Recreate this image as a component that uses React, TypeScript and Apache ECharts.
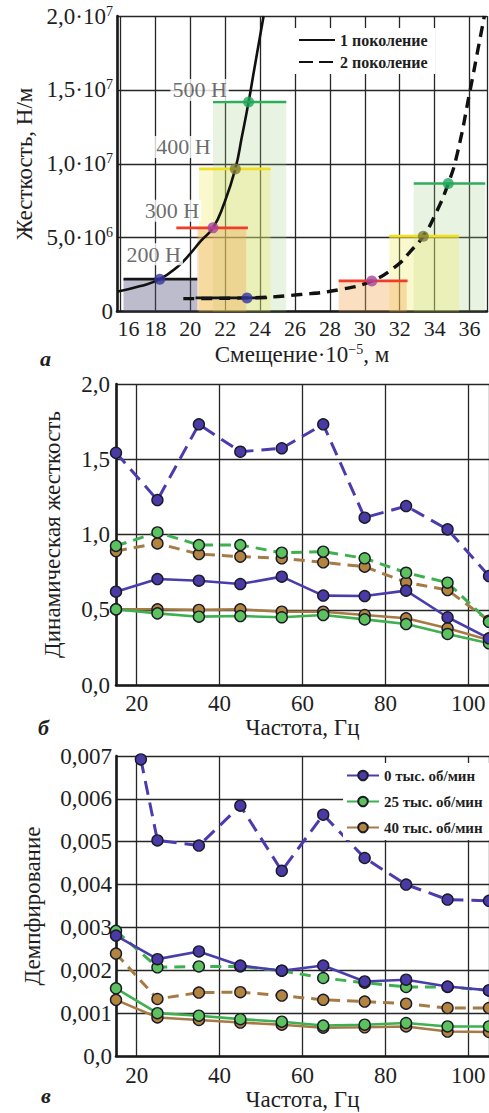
import React, { useEffect, useRef } from 'react';
import * as echarts from 'echarts';

const FONT = '"Liberation Serif", "DejaVu Serif", serif';
const INK = '#1e1e1e';

// ---------- а: stiffness vs displacement ----------
const forceLabels = ['200 Н', '300 Н', '400 Н', '500 Н'];

// curve of the 1st generation: [displacement·1e-5 m, stiffness N/m]
const gen1Curve = [
  [15.85, 1.35e6], [17.14, 1.72e6], [18.25, 2.19e6], [19.24, 3.0e6], [20.0, 3.92e6],
  [20.58, 4.74e6], [21.3, 5.66e6], [21.91, 7.22e6], [22.58, 9.65e6], [22.96, 11.86e6],
  [23.34, 14.18e6], [23.63, 16.16e6], [23.91, 18.06e6], [24.2, 20.0e6],
];
// curve of the 2nd generation
const gen2Curve = [
  [19.6, 0.87e6], [23.25, 0.92e6], [26.3, 1.15e6], [28.59, 1.49e6], [30.4, 2.07e6],
  [31.83, 3.11e6], [32.59, 4.04e6], [33.35, 5.1e6], [34.02, 6.53e6], [34.78, 8.66e6],
  [35.3, 10.7e6], [36.02, 14.9e6], [36.5, 17.85e6], [36.85, 20.0e6],
];

// measured points for 200/300/400/500 N
const gen1Disp = [18.25, 21.3, 22.58, 23.34];
const gen1Stiff = [2.19e6, 5.66e6, 9.65e6, 14.18e6];
const gen1Low = [16.17, 19.2, 20.5, 21.3];
const gen1High = [20.4, 23.3, 24.6, 25.5];
const gen1ShadeLow = [16.17, 20.4, 20.5, 21.3];
const gen1ShadeHigh = [20.4, 23.2, 24.6, 25.5];

const gen2Disp = [23.25, 30.4, 33.35, 34.78];
const gen2Stiff = [0.92e6, 2.07e6, 5.1e6, 8.66e6];
const gen2Low = [20.3, 28.5, 31.4, 32.8];
const gen2High = [24.4, 32.45, 35.4, 36.9];
const gen2ShadeLow = [null, 28.5, 31.4, 32.8];
const gen2ShadeHigh = [null, 32.4, 35.4, 36.9];

const barColors = ['#151515', '#f03c28', '#f0e020', '#2fae5a'];
const dotColors = ['#3535a0', '#a8449c', '#7d7a35', '#1fa65a'];
const shadeColors = [
  'rgba(80,80,120,0.38)',
  'rgba(242,165,80,0.36)',
  'rgba(238,232,100,0.32)',
  'rgba(160,210,130,0.24)',
];
// offsets of the force captions from their points (px)
const captionOffsets = [[-6, -25], [-41, -17], [-52, -22], [-49, -12]];

// ---------- б, в: frequency sweeps ----------
const freq = [15, 25, 35, 45, 55, 65, 75, 85, 95, 105];
const speedNames = ['0 тыс. об/мин', '25 тыс. об/мин', '40 тыс. об/мин'];

// dynamic stiffness
const stiffBlueDashed = [1.543, 1.229, 1.732, 1.55, 1.573, 1.732, 1.112, 1.189, 1.034, 0.724];
const stiffGreenDashed = [0.924, 1.014, 0.93, 0.93, 0.879, 0.886, 0.842, 0.746, 0.68, 0.42];
const stiffBrownDashed = [0.89, 0.941, 0.87, 0.853, 0.842, 0.815, 0.786, 0.682, 0.631, 0.427];
const stiffBlueSolid = [0.62, 0.704, 0.693, 0.671, 0.72, 0.594, 0.591, 0.627, 0.45, 0.31];
const stiffBrownSolid = [0.503, 0.503, 0.499, 0.503, 0.487, 0.487, 0.465, 0.443, 0.377, 0.299];
const stiffGreenSolid = [0.503, 0.476, 0.454, 0.458, 0.45, 0.465, 0.436, 0.405, 0.339, 0.277];

// damping
const dampBlueDashedFreq = [21, 25, 35, 45, 55, 65, 75, 85, 95, 105];
const dampBlueDashed = [0.00692, 0.00503, 0.00491, 0.00584, 0.00432, 0.00563, 0.00462, 0.004, 0.00365, 0.00362];
const dampBlueSolid = [0.00281, 0.00226, 0.00244, 0.00211, 0.00199, 0.00211, 0.00174, 0.00178, 0.00162, 0.00153];
const dampGreenDashed = [0.00292, 0.00207, 0.00209, 0.00209, 0.00199, 0.00182, 0.00171, 0.00161, 0.00161, 0.00153];
const dampGreenSolid = [0.00158, 0.001, 0.00094, 0.00086, 0.0008, 0.00071, 0.00073, 0.00077, 0.00069, 0.00069];
const dampBrownDashed = [0.00239, 0.00133, 0.00148, 0.00149, 0.00141, 0.00131, 0.00127, 0.00122, 0.00112, 0.00112];
const dampBrownSolid = [0.00131, 0.0009, 0.00084, 0.00078, 0.00073, 0.00066, 0.00067, 0.00069, 0.00057, 0.00056];

const BLUE = { line: '#4b3cae', dot: '#4a3aa6' };
const GREEN = { line: '#3fb050', dot: '#5cc25e' };
const BROWN = { line: '#a67a44', dot: '#b3843f' };

const pairs = (xs: number[], ys: number[]) => xs.map((x, i) => [x, ys[i]]);

const axisLine = { show: true, onZero: false, lineStyle: { color: '#1a1a1a', width: 2.6 } };
const split = { show: true, lineStyle: { color: '#262626', width: 1.3 } };
const tickLabel = { fontFamily: FONT, fontSize: 23, color: INK };
const nameStyle = { fontFamily: FONT, fontSize: 23, color: INK };

function sweep(name: string, data: number[][], idx: number, c: { line: string; dot: string }, dash: number[] | null, z: number) {
  return {
    type: 'line',
    name,
    xAxisIndex: idx,
    yAxisIndex: idx,
    data,
    z,
    symbol: 'circle',
    symbolSize: 11,
    lineStyle: { color: c.line, width: dash ? 3 : 2.6, type: dash || 'solid' },
    itemStyle: { color: c.dot, borderColor: '#1a1a28', borderWidth: 1.4 },
    emphasis: { disabled: true },
  };
}

function buildOption() {
  const shadeData: number[][] = [];
  for (let k = 3; k >= 0; k--) {
    shadeData.push([gen1ShadeLow[k], gen1ShadeHigh[k], gen1Stiff[k], k]);
    if (gen2ShadeLow[k] != null) shadeData.push([gen2ShadeLow[k] as number, gen2ShadeHigh[k] as number, gen2Stiff[k], k]);
  }
  const barData: number[][] = [];
  for (let k = 0; k < 4; k++) {
    barData.push([gen1Low[k], gen1High[k], gen1Stiff[k], k]);
    barData.push([gen2Low[k], gen2High[k], gen2Stiff[k], k]);
  }

  const supRich = {
    n: { fontFamily: FONT, fontSize: 23, color: INK },
    s: { fontFamily: FONT, fontSize: 14, color: INK, padding: [0, 0, 10, 0] },
  };

  return {
    animation: false,
    backgroundColor: '#ffffff',
    grid: [
      { left: 117, top: 16, width: 370, height: 295.5 },
      { left: 116, top: 384, width: 373, height: 301 },
      { left: 116, top: 756, width: 373, height: 300 },
    ],
    xAxis: [
      {
        gridIndex: 0, type: 'value', min: 15.8, max: 37, splitNumber: 10,
        axisLine, axisTick: { show: false }, splitLine: split,
        axisLabel: {
          ...tickLabel, fontSize: 22, margin: 6, showMinLabel: false, showMaxLabel: false,
          formatter: (v: number) => (v === 16 ? '{p|16}' : String(v)),
          rich: { p: { fontFamily: FONT, fontSize: 22, color: INK, padding: [0, 0, 0, 16] } },
        },
        name: '{n|Смещение·10}{s|−5}{n|, м}', nameLocation: 'middle', nameGap: 31,
        nameTextStyle: { ...nameStyle, rich: supRich },
      },
      {
        gridIndex: 1, type: 'value', min: 15, max: 105,
        axisLine, axisTick: { show: false }, splitLine: split,
        axisLabel: { ...tickLabel, margin: 7, showMinLabel: false, showMaxLabel: false },
        name: 'Частота, Гц', nameLocation: 'middle', nameGap: 27, nameTextStyle: nameStyle,
      },
      {
        gridIndex: 2, type: 'value', min: 15, max: 105,
        axisLine, axisTick: { show: false }, splitLine: split,
        axisLabel: { ...tickLabel, margin: 8, showMinLabel: false, showMaxLabel: false },
        name: 'Частота, Гц', nameLocation: 'middle', nameGap: 30, nameTextStyle: nameStyle,
      },
    ],
    yAxis: [
      {
        gridIndex: 0, type: 'value', min: 0, max: 2e7, interval: 5e6,
        axisLine, axisTick: { show: false }, splitLine: split,
        axisLabel: {
          margin: 4,
          formatter: (v: number) => {
            if (v === 0) return '{n|0}';
            const e = v >= 1e7 ? 7 : 6;
            const m = (v / Math.pow(10, e)).toFixed(1).replace('.', ',');
            return `{n|${m}·10}{s|${e}}`;
          },
          rich: supRich,
        },
        name: 'Жесткость, Н/м', nameLocation: 'middle', nameGap: 80, nameTextStyle: nameStyle,
      },
      {
        gridIndex: 1, type: 'value', min: 0, max: 2, interval: 0.5,
        axisLine, axisTick: { show: false }, splitLine: split,
        axisLabel: { ...tickLabel, margin: 6, formatter: (v: number) => v.toFixed(1).replace('.', ',') },
        name: 'Динамическая жесткость', nameLocation: 'middle', nameGap: 52, nameTextStyle: nameStyle,
      },
      {
        gridIndex: 2, type: 'value', min: 0, max: 0.007, interval: 0.001,
        axisLine, axisTick: { show: false }, splitLine: split,
        axisLabel: {
          ...tickLabel, margin: 4,
          formatter: (v: number) => (v === 0 ? '0,0' : v.toFixed(3).replace('.', ',')),
        },
        name: 'Демпфирование', nameLocation: 'middle', nameGap: 72, nameTextStyle: nameStyle,
      },
    ],
    legend: [
      {
        data: [
          { name: '1 поколение' },
          { name: '2 поколение', lineStyle: { type: [14, 6] } },
        ],
        left: 292, top: 28, orient: 'vertical',
        itemWidth: 36, itemHeight: 10, itemGap: 6,
        padding: [4, 8, 4, 6], backgroundColor: '#ffffff',
        selectedMode: false,
        itemStyle: { opacity: 0 },
        textStyle: { fontFamily: FONT, fontSize: 16, fontWeight: 'bold', color: INK },
      },
      {
        data: speedNames,
        left: 343, top: 763, orient: 'vertical',
        itemWidth: 32, itemHeight: 12, itemGap: 11,
        padding: [5, 10, 5, 3], backgroundColor: '#ffffff',
        selectedMode: false,
        textStyle: { fontFamily: FONT, fontSize: 15, fontWeight: 'bold', color: INK },
      },
    ],
    graphic: [
      { type: 'text', left: 40, top: 347, style: { text: 'а', font: `italic bold 22px ${FONT}`, fill: INK } },
      { type: 'text', left: 38, top: 716, style: { text: 'б', font: `italic bold 22px ${FONT}`, fill: INK } },
      { type: 'text', left: 41, top: 1084, style: { text: 'в', font: `italic bold 22px ${FONT}`, fill: INK } },
    ],
    series: [
      // ---- а ----
      {
        type: 'custom', xAxisIndex: 0, yAxisIndex: 0, z: 1, silent: true,
        data: shadeData, encode: { x: [0, 1], y: 2 },
        renderItem: (_p: any, api: any) => {
          const a = api.coord([api.value(0), api.value(2)]);
          const b = api.coord([api.value(1), 0]);
          return {
            type: 'rect',
            shape: { x: a[0], y: a[1], width: b[0] - a[0], height: b[1] - a[1] },
            style: { fill: shadeColors[api.value(3)] },
          };
        },
      },
      {
        type: 'line', name: '1 поколение', xAxisIndex: 0, yAxisIndex: 0, z: 2,
        data: gen1Curve, symbol: 'none', smooth: 0.5,
        lineStyle: { color: '#111111', width: 2.6, type: 'solid' },
        itemStyle: { color: '#111111' },
      },
      {
        type: 'line', name: '2 поколение', xAxisIndex: 0, yAxisIndex: 0, z: 2,
        data: gen2Curve, symbol: 'none', smooth: 0.5,
        lineStyle: { color: '#111111', width: 3.4, type: [11, 7] },
        itemStyle: { color: '#111111' },
      },
      {
        type: 'custom', xAxisIndex: 0, yAxisIndex: 0, z: 3, silent: true,
        data: barData, encode: { x: [0, 1], y: 2 },
        renderItem: (_p: any, api: any) => {
          const a = api.coord([api.value(0), api.value(2)]);
          const b = api.coord([api.value(1), api.value(2)]);
          return {
            type: 'line',
            shape: { x1: a[0], y1: a[1], x2: b[0], y2: b[1] },
            style: { stroke: barColors[api.value(3)], lineWidth: 2.6 },
          };
        },
      },
      {
        type: 'scatter', xAxisIndex: 0, yAxisIndex: 0, z: 4, symbolSize: 11, silent: true,
        data: gen1Disp.map((x, k) => ({
          value: [x, gen1Stiff[k]],
          itemStyle: { color: dotColors[k] },
          label: {
            show: true, position: 'inside', offset: captionOffsets[k], formatter: forceLabels[k],
            fontFamily: FONT, fontSize: 22, color: '#454545', backgroundColor: '#ffffff', padding: [0, 2],
          },
        })),
      },
      {
        type: 'scatter', xAxisIndex: 0, yAxisIndex: 0, z: 4, symbolSize: 11, silent: true,
        data: gen2Disp.map((x, k) => ({ value: [x, gen2Stiff[k]], itemStyle: { color: dotColors[k] } })),
      },
      // ---- б ----
      sweep('b-40-2', pairs(freq, stiffBrownDashed), 1, BROWN, [11, 7], 2),
      sweep('b-25-2', pairs(freq, stiffGreenDashed), 1, GREEN, [11, 7], 2),
      sweep('b-0-2', pairs(freq, stiffBlueDashed), 1, BLUE, [14, 8], 2),
      sweep('b-40-1', pairs(freq, stiffBrownSolid), 1, BROWN, null, 2),
      sweep('b-25-1', pairs(freq, stiffGreenSolid), 1, GREEN, null, 2),
      sweep('b-0-1', pairs(freq, stiffBlueSolid), 1, BLUE, null, 2),
      // ---- в ----
      sweep('c-40-2', pairs(freq, dampBrownDashed), 2, BROWN, [11, 7], 2),
      sweep('c-25-2', pairs(freq, dampGreenDashed), 2, GREEN, [11, 7], 2),
      sweep('c-0-2', pairs(dampBlueDashedFreq, dampBlueDashed), 2, BLUE, [14, 8], 2),
      sweep(speedNames[2], pairs(freq, dampBrownSolid), 2, BROWN, null, 2),
      sweep(speedNames[1], pairs(freq, dampGreenSolid), 2, GREEN, null, 2),
      sweep(speedNames[0], pairs(freq, dampBlueSolid), 2, BLUE, null, 2),
    ],
  };
}

export default function App() {
  const ref = useRef<HTMLDivElement>(null);
  useEffect(() => {
    if (!ref.current) return;
    const chart = echarts.init(ref.current, null, { renderer: 'svg' });
    chart.setOption(buildOption() as any);
    return () => chart.dispose();
  }, []);
  return (
    <div
      ref={ref}
      style={{ position: 'absolute', left: 0, top: 0, width: 489, height: 1113, background: '#ffffff' }}
    />
  );
}
